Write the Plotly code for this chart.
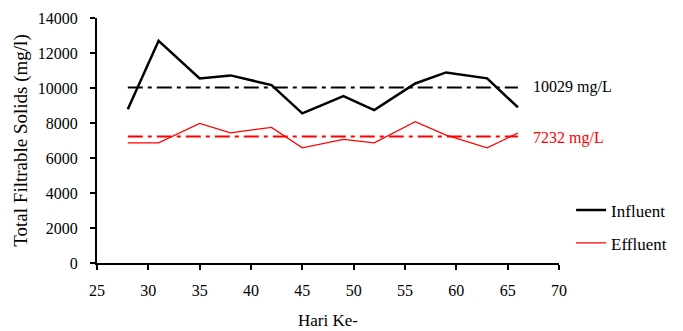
import plotly.graph_objects as go

days = [28, 31, 35, 38, 42, 45, 49, 52, 56, 59, 63, 66]
influent = [8780, 12700, 10550, 10720, 10170, 8550, 9540, 8740, 10260, 10890, 10550, 8890]
effluent = [6870, 6870, 7980, 7440, 7750, 6580, 7060, 6870, 8070, 7310, 6580, 7430]
influent_mean = 10029
effluent_mean = 7232
x_ticks = [25, 30, 35, 40, 45, 50, 55, 60, 65, 70]
y_ticks = [0, 2000, 4000, 6000, 8000, 10000, 12000, 14000]
y_tick_labels = ["0", "2000", "4000", "6000", "8000", "10000", "12000", "14000"]

FONT = "Liberation Serif"

fig = go.Figure()
fig.add_trace(go.Scatter(x=days, y=influent, mode="lines", name="Influent",
                         line=dict(color="black", width=2.5), legend="legend"))
fig.add_trace(go.Scatter(x=days, y=effluent, mode="lines", name="Effluent",
                         line=dict(color="#ff0000", width=1.2), legend="legend2"))
fig.add_trace(go.Scatter(x=[days[0], days[-1]], y=[influent_mean, influent_mean], mode="lines",
                         line=dict(color="black", width=2, dash="15px,5px,4px,5px"), showlegend=False))
fig.add_trace(go.Scatter(x=[days[0], days[-1]], y=[effluent_mean, effluent_mean], mode="lines",
                         line=dict(color="#ff0000", width=2, dash="15px,5px,4px,5px"), showlegend=False))

fig.add_annotation(x=67.3, y=influent_mean, text=f"{influent_mean} mg/L", showarrow=False,
                   xanchor="left", yanchor="middle", font=dict(family=FONT, size=16, color="black"))
fig.add_annotation(x=67.3, y=effluent_mean, text=f"{effluent_mean} mg/L", showarrow=False,
                   xanchor="left", yanchor="middle", yshift=-2,
                   font=dict(family=FONT, size=16, color="#ff0000"))

fig.update_layout(
    width=683, height=331,
    margin=dict(l=97, r=123, t=18, b=68),
    paper_bgcolor="white", plot_bgcolor="white",
    font=dict(family=FONT, size=15, color="black"),
    legend=dict(x=1.024, y=0.215, xanchor="left", yanchor="middle", bgcolor="rgba(0,0,0,0)",
                font=dict(family=FONT, size=17, color="black")),
    legend2=dict(x=1.024, y=0.08, xanchor="left", yanchor="middle", bgcolor="rgba(0,0,0,0)",
                 font=dict(family=FONT, size=17, color="black")),
    xaxis=dict(range=[25, 70], tickvals=x_ticks, ticks="outside", ticklen=5, tickwidth=1.5,
               tickcolor="black", showline=True, linecolor="black", linewidth=2,
               showgrid=False, zeroline=False, ticklabelstandoff=7, automargin=False,
               title=dict(text="Hari Ke-", font=dict(family=FONT, size=17), standoff=16),
               tickfont=dict(family=FONT, size=16)),
    yaxis=dict(range=[0, 14000], tickvals=y_ticks, ticktext=y_tick_labels, ticks="outside",
               ticklen=5, tickwidth=1.5, automargin=False,
               tickcolor="black", showline=True, linecolor="black", linewidth=2,
               showgrid=False, zeroline=False, ticklabelstandoff=9,
               title=dict(text="Total Filtrable Solids (mg/l)", font=dict(family=FONT, size=19), standoff=5),
               tickfont=dict(family=FONT, size=16)),
    showlegend=True,
)

fig.write_html("out.html")
